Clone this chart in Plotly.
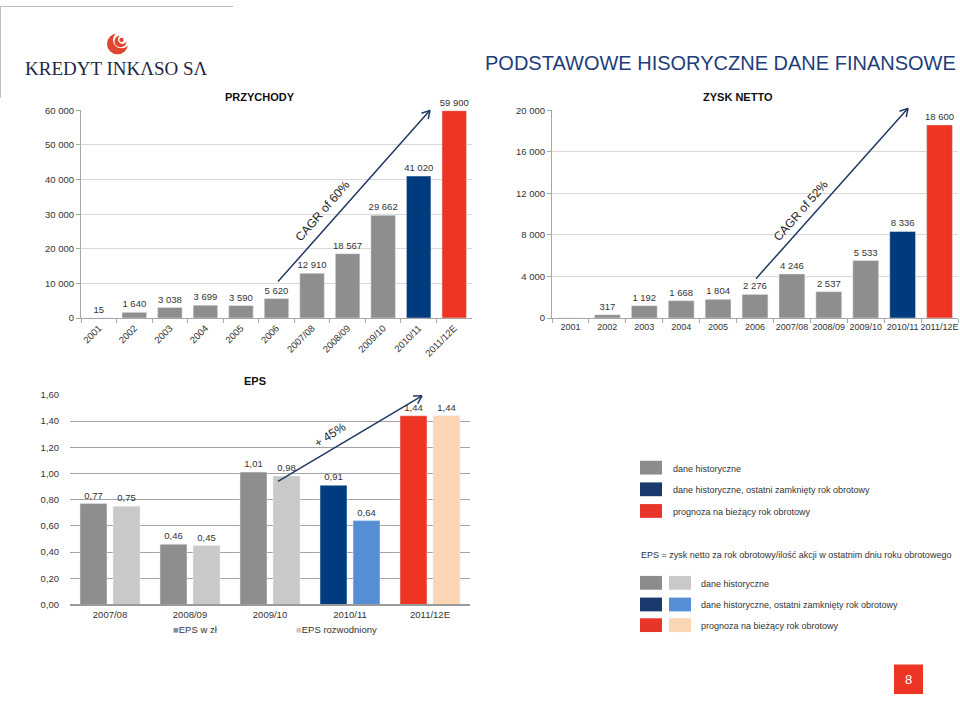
import numpy as np
import plotly.graph_objects as go

# ---------------- data ----------------
rev_categories = ["2001", "2002", "2003", "2004", "2005", "2006", "2007/08", "2008/09", "2009/10", "2010/11", "2011/12E"]
rev_values = [15, 1640, 3038, 3699, 3590, 5620, 12910, 18567, 29662, 41020, 59900]

profit_categories = ["2001", "2002", "2003", "2004", "2005", "2006", "2007/08", "2008/09", "2009/10", "2010/11", "2011/12E"]
profit_values = [0, 317, 1192, 1668, 1804, 2276, 4246, 2537, 5533, 8336, 18600]
profit_labels = ["", "317", "1 192", "1 668", "1 804", "2 276", "4 246", "2 537", "5 533", "8 336", "18 600"]

eps_categories = ["2007/08", "2008/09", "2009/10", "2010/11", "2011/12E"]
eps_basic = [0.77, 0.46, 1.01, 0.91, 1.44]
eps_diluted = [0.75, 0.45, 0.98, 0.64, 1.44]

GRAY = "#8e8e8e"
NAVY = "#003b7d"
RED = "#ee3524"
LGRAY = "#c9c9c9"
LBLUE = "#558ed5"
PEACH = "#fcd5b5"

rev_colors = [GRAY] * 9 + [NAVY, RED]
profit_colors = [GRAY] * 9 + [NAVY, RED]
eps_basic_colors = [GRAY, GRAY, GRAY, NAVY, RED]
eps_diluted_colors = [LGRAY, LGRAY, LGRAY, LBLUE, PEACH]

W, H = 960, 702
FONT = "Liberation Sans, Arial, sans-serif"
TXT = "#333333"
FS = 9.5


def px(x):
    return x / W


def py(y):
    return 1 - y / H


fig = go.Figure()

fig.add_trace(go.Bar(
    x=rev_categories, y=rev_values, marker_color=rev_colors, width=0.69,
    text=rev_values, texttemplate="%{y:,.0f}", textposition="outside",
    constraintext="none",
    textfont=dict(size=FS, color=TXT), cliponaxis=False,
    xaxis="x", yaxis="y", showlegend=False))

fig.add_trace(go.Bar(
    x=profit_categories, y=profit_values, marker_color=profit_colors, width=0.7,
    text=profit_labels, texttemplate="%{text}", textposition="outside",
    constraintext="none",
    textfont=dict(size=FS, color=TXT), cliponaxis=False,
    xaxis="x2", yaxis="y2", showlegend=False))

fig.add_trace(go.Bar(
    x=eps_categories, y=eps_basic, marker_color=eps_basic_colors,
    width=0.3375, offset=-0.375,
    texttemplate="%{y:.2f}", textposition="outside", constraintext="none",
    textfont=dict(size=FS, color=TXT), cliponaxis=False,
    xaxis="x3", yaxis="y3", showlegend=False))

fig.add_trace(go.Bar(
    x=eps_categories, y=eps_diluted, marker_color=eps_diluted_colors,
    width=0.3375, offset=0.0375,
    texttemplate="%{y:.2f}", textposition="outside", constraintext="none",
    textfont=dict(size=FS, color=TXT), cliponaxis=False,
    xaxis="x3", yaxis="y3", showlegend=False))

axis_line = "#a6a6a6"
grid_light = "#d9d9d9"

fig.update_layout(
    width=W, height=H,
    margin=dict(l=0, r=0, t=0, b=0),
    paper_bgcolor="white", plot_bgcolor="white",
    separators=", ",
    barmode="overlay",
    font=dict(family=FONT, size=FS, color=TXT),
    xaxis=dict(domain=[px(81), px(472)], anchor="y", type="category",
               showline=True, linecolor=axis_line, ticks="outside", tickson="boundaries",
               ticklen=4, tickcolor=axis_line, tickangle=-45, tickfont=dict(size=FS, color=TXT)),
    yaxis=dict(domain=[py(317), py(106)], anchor="x", range=[0, 60000], dtick=10000,
               tickformat=",d", showline=True, linecolor=axis_line, ticks="outside",
               ticklen=4, tickcolor=axis_line, gridcolor=grid_light, zeroline=False,
               tickfont=dict(size=FS, color=TXT)),
    xaxis2=dict(domain=[px(552), px(958)], anchor="y2", type="category",
                showline=True, linecolor=axis_line, ticks="outside", tickson="boundaries",
                ticklen=4, tickcolor=axis_line, tickangle=0, tickfont=dict(size=9, color=TXT)),
    yaxis2=dict(domain=[py(317), py(106)], anchor="x2", range=[0, 20000], dtick=4000,
                tickformat=",d", showline=True, linecolor=axis_line, ticks="outside",
                ticklen=4, tickcolor=axis_line, gridcolor=grid_light, zeroline=False,
                tickfont=dict(size=FS, color=TXT)),
    xaxis3=dict(domain=[px(70), px(470)], anchor="y3", type="category",
                showline=True, linecolor="#9a9a9a", linewidth=1.5, ticks="",
                tickfont=dict(size=FS, color=TXT)),
    yaxis3=dict(domain=[py(608), py(395)], anchor="x3", range=[0, 1.6], dtick=0.2,
                tickformat=".2f", showline=False, gridcolor="#a3a3a3", gridwidth=1.3,
                zeroline=False, ticks="outside", ticklen=8, tickcolor="rgba(0,0,0,0)",
                tickfont=dict(size=FS, color=TXT)),
)

shapes = []
annotations = []


def text(x, y, s, size=FS, color=TXT, xanchor="left", bold=False, family=FONT, angle=0):
    if bold:
        s = "<b>" + s + "</b>"
    annotations.append(dict(x=px(x), y=py(y), xref="paper", yref="paper", text=s,
                            showarrow=False, xanchor=xanchor, yanchor="middle",
                            textangle=angle,
                            font=dict(size=size, color=color, family=family)))


def arrow(x0, y0, x1, y1, color="#1f3864"):
    shapes.append(dict(type="line", xref="paper", yref="paper",
                       x0=px(x0), y0=py(y0), x1=px(x1), y1=py(y1),
                       line=dict(color=color, width=1.5)))
    d = np.array([x1 - x0, y1 - y0], dtype=float)
    d /= np.linalg.norm(d)
    for a in (np.radians(30), -np.radians(30)):
        r = np.array([[np.cos(a), -np.sin(a)], [np.sin(a), np.cos(a)]])
        b = r @ (-d) * 9
        shapes.append(dict(type="line", xref="paper", yref="paper",
                           x0=px(x1), y0=py(y1), x1=px(x1 + b[0]), y1=py(y1 + b[1]),
                           line=dict(color=color, width=1.5)))


# logo box lines
shapes.append(dict(type="line", xref="paper", yref="paper", x0=0, y0=py(0.5), x1=px(233), y1=py(0.5),
                   line=dict(color="#bfbfbf", width=1)))
shapes.append(dict(type="line", xref="paper", yref="paper", x0=px(0.5), y0=py(0), x1=px(0.5), y1=py(93),
                   line=dict(color="#bfbfbf", width=1)))

# logo icon
def circle(cx, cy, r, color):
    shapes.append(dict(type="circle", xref="paper", yref="paper",
                       x0=px(cx - r), x1=px(cx + r), y0=py(cy + r), y1=py(cy - r),
                       fillcolor=color, line=dict(width=0)))

circle(117.5, 38.5, 10.5, "#e0452f")
circle(121.5, 34.5, 8.5, "white")
circle(120.5, 36, 6, "#e0452f")
circle(122.5, 34, 4.5, "white")
circle(121.5, 34.5, 2.2, "#e0452f")

text(116, 64, "KREDYT INKΛSO SΛ", size=19, color="#1f2744", xanchor="center",
     family="Liberation Serif, DejaVu Serif, serif")

# main title
text(958, 58, "PODSTAWOWE HISORYCZNE DANE FINANSOWE", size=20, color="#1f3d7a", xanchor="right",
     family="Liberation Sans, Arial, sans-serif")

# chart titles
text(260, 92, "PRZYCHODY", size=11, color="#111111", xanchor="center", bold=True)
text(738, 92, "ZYSK NETTO", size=11, color="#111111", xanchor="center", bold=True)
text(255, 381, "EPS", size=11, color="#111111", xanchor="center", bold=True)

# CAGR arrows
arrow(278, 280, 430, 106)
text(322.5, 208.5, "CAGR of 60%", size=12, color="#222222", xanchor="center", angle=-49)
arrow(756, 277, 908, 104)
text(800.5, 208, "CAGR of 52%", size=12, color="#222222", xanchor="center", angle=-49)
arrow(278, 483, 422, 396)
text(330, 436, "+ 45%", size=12, color="#222222", xanchor="center", angle=-33)

# EPS legend
annotations.append(dict(x=px(171), y=py(633), xref="paper", yref="paper",
                        text="<span style='color:#8e8e8e'>■</span>EPS w zł", showarrow=False,
                        xanchor="left", yanchor="middle", font=dict(size=FS, color=TXT, family=FONT)))
annotations.append(dict(x=px(294), y=py(633), xref="paper", yref="paper",
                        text="<span style='color:#c9c9c9'>■</span>EPS rozwodniony", showarrow=False,
                        xanchor="left", yanchor="middle", font=dict(size=FS, color=TXT, family=FONT)))


def square(x0, y0, x1, y1, color):
    shapes.append(dict(type="rect", xref="paper", yref="paper",
                       x0=px(x0), x1=px(x1), y0=py(y1), y1=py(y0),
                       fillcolor=color, line=dict(width=0)))

LEG_GRAY = "#8c8c8c"
LEG_NAVY = "#1a3a6e"
LEG_RED = "#e8352a"

legend_labels = ["dane historyczne", "dane historyczne, ostatni zamknięty rok obrotowy",
                 "prognoza na bieżący rok obrotowy"]

rows1 = [469, 491, 513]
for yc, col, lab in zip(rows1, [LEG_GRAY, LEG_NAVY, LEG_RED], legend_labels):
    square(640, yc - 7, 662, yc + 7, col)
    text(671, yc + 1, lab, size=9)

text(639, 558, "EPS = zysk netto za rok obrotowy/ilość akcji w ostatnim dniu roku obrotowego", size=9)

rows2 = [586, 608, 629]
for yc, c1, c2, lab in zip(rows2, [LEG_GRAY, LEG_NAVY, LEG_RED], [LGRAY, LBLUE, PEACH], legend_labels):
    square(640, yc - 7, 662, yc + 7, c1)
    square(669, yc - 7, 691, yc + 7, c2)
    text(699, yc + 1, lab, size=9)

# page number
square(894, 669, 923, 699, "#ee3524")
text(908.5, 684, "8", size=13, color="white", xanchor="center")

fig.update_layout(shapes=shapes, annotations=annotations)
fig.write_html("out.html", config={"displayModeBar": False},
               post_script="document.body.style.margin='0';document.body.style.overflow='hidden';")
